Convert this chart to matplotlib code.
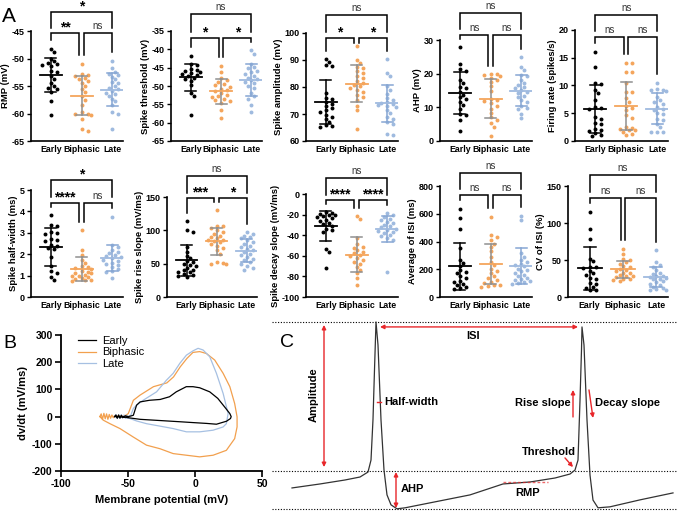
import matplotlib.pyplot as plt
import numpy as np

plt.rcParams['font.family'] = ['Liberation Sans', 'DejaVu Sans']
plt.rcParams['axes.unicode_minus'] = False

groups = ['Early', 'Biphasic', 'Late']
dot_colors = ['black', '#F4A55C', '#9FBADF']
err_colors = ['black', '#8f8f8f', '#86A6D3']
red = '#E8262A'

# ---------------- panel A: one list per group ----------------
rmp_early = [-48.2, -48.9, -50.0, -50.5, -50.8, -51.0, -51.1, -51.3, -52.3, -52.5, -53.2, -53.8, -54.5, -55.0, -55.3, -55.5, -56.0, -57.7, -60.3]
rmp_bip = [-51.0, -52.8, -53.0, -53.2, -53.5, -53.8, -54.0, -54.5, -55.0, -55.5, -56.0, -56.8, -57.5, -58.5, -59.8, -60.0, -60.1, -60.3, -61.0, -62.8, -63.2]
rmp_late = [-50.5, -51.8, -52.5, -52.8, -53.0, -53.3, -53.8, -54.3, -54.5, -55.0, -55.3, -55.6, -55.9, -56.2, -56.5, -56.8, -57.3, -57.8, -58.5, -59.8, -60.1, -62.8]

thr_early = [-41.7, -43.9, -44.4, -45.3, -45.6, -45.8, -46.2, -46.5, -46.8, -47.0, -47.3, -47.8, -48.2, -48.6, -49.7, -52.0, -52.8, -58.0]
thr_bip = [-44.5, -46.2, -47.8, -48.3, -48.8, -49.5, -49.8, -50.2, -50.8, -51.2, -51.5, -52.0, -52.5, -52.8, -53.0, -53.5, -53.8, -54.0, -54.6, -56.5, -58.8]
thr_late = [-40.3, -41.2, -43.9, -44.8, -45.2, -45.8, -46.3, -46.7, -47.2, -47.7, -48.1, -48.5, -48.9, -49.3, -50.0, -50.5, -52.0, -52.8, -53.5, -55.2, -57.0]

amp_early = [90.3, 89.2, 88.0, 87.6, 77.8, 76.0, 75.5, 74.5, 73.8, 73.0, 72.2, 71.5, 70.8, 69.8, 69.0, 68.2, 67.0, 66.0, 65.5, 65.2]
amp_bip = [95.3, 90.0, 87.0, 86.0, 88.8, 87.5, 85.2, 84.0, 83.5, 82.2, 81.5, 80.8, 80.2, 79.5, 78.8, 78.0, 77.0, 76.2, 75.2, 73.0, 71.5, 64.6]
amp_late = [90.3, 85.3, 84.0, 80.3, 79.0, 77.5, 76.0, 75.2, 74.5, 74.0, 73.6, 73.3, 73.0, 72.6, 71.4, 70.2, 69.0, 68.3, 67.0, 66.2, 62.7, 62.3]

ahp_early = [27.8, 23.0, 21.4, 20.8, 18.2, 17.3, 16.0, 15.6, 14.6, 13.8, 13.0, 12.4, 11.5, 10.6, 9.5, 8.1, 7.6, 6.1, 3.1]
ahp_bip = [20.0, 19.8, 19.6, 19.3, 18.8, 18.2, 17.5, 16.3, 14.9, 12.6, 12.3, 12.0, 11.2, 10.5, 9.6, 8.2, 7.0, 6.3, 5.2, 4.2, 1.5]
ahp_late = [25.0, 22.0, 21.0, 19.6, 19.2, 18.0, 17.2, 16.5, 16.0, 15.6, 15.0, 14.5, 14.2, 13.5, 13.0, 12.2, 11.5, 10.5, 9.8, 9.5, 8.1, 6.9]

fr_early = [16.0, 13.3, 10.5, 10.2, 9.2, 8.6, 7.3, 6.1, 6.0, 5.8, 4.3, 4.0, 3.2, 3.0, 2.2, 1.9, 1.8, 1.4, 1.0, 0.9]
fr_bip = [14.1, 14.1, 12.5, 12.5, 10.4, 8.9, 8.9, 7.7, 7.1, 6.3, 6.0, 5.5, 4.6, 4.2, 2.6, 2.4, 2.2, 2.0, 1.9, 1.6, 1.3, 1.0]
fr_late = [10.4, 9.3, 9.2, 9.1, 9.0, 8.0, 7.3, 7.0, 6.7, 6.2, 5.8, 5.5, 5.0, 4.9, 4.0, 3.8, 3.1, 2.5, 1.7, 1.6, 1.6]

hw_early = [3.85, 3.35, 3.3, 3.05, 3.0, 2.95, 2.7, 2.65, 2.6, 2.45, 2.4, 2.3, 2.25, 1.85, 1.45, 1.2, 1.1, 0.95, 0.8]
hw_bip = [3.12, 2.2, 1.95, 1.75, 1.6, 1.45, 1.4, 1.35, 1.3, 1.2, 1.15, 1.1, 1.1, 1.05, 1.0, 1.0, 0.95, 0.9, 0.85, 0.8, 0.8, 0.75]
hw_late = [3.75, 2.45, 2.35, 2.2, 2.1, 2.05, 1.95, 1.9, 1.85, 1.8, 1.75, 1.7, 1.6, 1.55, 1.5, 1.4, 1.3, 1.2, 1.15, 0.9]

rise_early = [114, 100, 97, 75, 68, 62, 58, 54, 52, 49, 48, 46, 44, 41, 40, 38, 37, 34, 33, 32, 30]
rise_bip = [130, 107, 106, 104, 100, 98, 95, 92, 90, 88, 86, 85, 84, 82, 80, 77, 74, 70, 65, 52, 51, 50, 50]
rise_late = [97, 95, 92, 90, 88, 85, 82, 80, 77, 75, 72, 70, 68, 65, 63, 60, 57, 55, 52, 50, 46, 43, 41]

decay_early = [-17.5, -18.5, -19.0, -20.0, -20.5, -21.5, -22.0, -23.0, -25.0, -26.5, -28.0, -29.0, -31.0, -33.5, -35.0, -36.5, -53.5, -56.0, -72.0]
decay_bip = [-21.5, -24.0, -43.0, -49.0, -51.0, -52.0, -54.5, -56.0, -57.0, -59.0, -60.0, -62.5, -64.0, -66.0, -67.5, -70.5, -74.0, -77.0, -81.5, -88.5]
decay_late = [-18.5, -20.0, -22.0, -24.0, -25.5, -27.0, -28.5, -30.0, -31.5, -32.5, -33.5, -34.5, -35.5, -36.5, -37.5, -39.5, -41.0, -43.0, -44.5, -75.5]

isi_early = [632, 566, 488, 350, 265, 245, 225, 195, 180, 170, 150, 135, 118, 110, 97, 85, 70, 62, 60]
isi_bip = [578, 445, 430, 412, 385, 362, 330, 285, 250, 230, 200, 190, 170, 150, 140, 125, 110, 100, 90, 85, 80, 72]
isi_late = [585, 555, 315, 290, 270, 255, 240, 230, 220, 205, 195, 185, 175, 160, 150, 140, 130, 120, 115, 110, 100, 95]

cv_early = [115, 92, 78, 52, 48, 41, 40, 39, 35, 32, 30, 26, 24, 19, 18, 14, 12, 10, 9]
cv_bip = [65, 58, 52, 50, 47, 45, 42, 40, 38, 36, 35, 33, 32, 30, 29, 28, 27, 25, 24, 23, 22]
cv_late = [63, 47, 43, 41, 36, 33, 31, 29, 28, 27, 26, 25, 24, 22, 20, 18, 16, 14, 12, 11, 10, 9]

# significance: (Early-Biphasic, Biphasic-Late, Early-Late)
sig_rmp = ['**', 'ns', '*']
sig_thr = ['*', '*', 'ns']
sig_amp = ['*', '*', 'ns']
sig_ahp = ['ns', 'ns', 'ns']
sig_fr = ['ns', 'ns', 'ns']
sig_hw = ['****', 'ns', '*']
sig_rise = ['***', '*', 'ns']
sig_decay = ['****', '****', 'ns']
sig_isi = ['ns', 'ns', 'ns']
sig_cv = ['ns', 'ns', 'ns']

# ---------------- panel B: phase plots ----------------
early_v = [-60, -59, -58, -57, -56, -55, -54, -52, -50, -48, -46, -43.6, -41, -34, -26, -19, -14, -6.5, -1.5, 3.5, 11, 17, 23, 26, 27, 26.5, 23.5, 16, 8.5, -1.5, -11, -21, -31, -41, -48.5, -56, -60]
early_dv = [0, 6, -6, 6, -6, 5, -4, 3, 0, 2, 5, 42, 54, 60, 63, 73, 91, 110, 110, 106, 91, 67, 30, 11, 0, -7, -17, -28, -25, -22, -19, -16, -13, -10, -5, 0, 0]
bip_v = [-71, -70, -69, -68, -67, -66, -65, -64, -63, -62, -61, -60, -56, -52, -49.8, -46, -41, -31, -21, -16, -11, -6, -1.5, 3.5, 8.5, 14.7, 21, 26, 29.6, 31.4, 31.4, 29.6, 23.4, 13.5, 3.5, -6.4, -16.3, -26.2, -36.2, -46.1, -56, -63.5, -68.5, -71]
bip_dv = [0, 10, -10, 12, -8, 10, -10, 8, -6, 6, -4, 3, 2, 4, 11, 60, 79, 110, 124, 146, 183, 214, 236, 239, 232, 208, 159, 110, 48, -1, -38, -81, -124, -142, -148, -142, -136, -118, -105, -75, -44, -26, -13, 0]
late_v = [-60, -59, -58, -57, -56, -55, -54, -53, -52, -51, -50, -48.6, -47.9, -46, -43.6, -38.7, -28.7, -21.3, -16.3, -11.3, -6.4, -1.4, 2.3, 6, 11, 16, 21, 24.7, 23.4, 21, 13.5, 3.5, -6.4, -16.3, -26.2, -36.2, -43.6, -48.6, -56, -60]
late_dv = [0, 7, -7, 6, -6, 7, -5, 6, -6, 5, -4, 3, 5, 30, 42, 60, 91, 134, 159, 196, 226, 242, 251, 245, 220, 159, 85, 11, -26, -38, -50, -56, -56, -44, -35, -26, -16, -7, 0, 0]

# ---------------- panel C: schematic trace (ms, mV) ----------------
trace_t = [11, 25, 37.5, 45, 49, 50.5, 51.5, 52.25, 53, 54, 55.5, 57, 58.5, 60.5, 63.5, 67.5, 80, 100, 116.5, 130, 142.5, 150, 152.5, 154, 155, 155.75, 156, 157, 158.5, 160, 161.5, 164, 170, 185, 201.5]
trace_v = [-53.5, -51.5, -49.5, -48, -45.5, -39.5, -19, 6, 30, 18.4, -19.3, -44.5, -57, -62, -64, -63.5, -61, -57, -51.5, -50.5, -48.5, -46.5, -44.5, -39.5, -9.5, 16, 27.5, 18.4, -19.3, -47, -59.6, -63.5, -63, -59.5, -56]
threshold_v = -45

W, H = 678, 511
fig = plt.figure(figsize=(W / 100, H / 100), dpi=100)


def add_ax(l, t, r, b):
    return fig.add_axes([l / W, 1 - b / H, (r - l) / W, (b - t) / H])


def swarm(vals, ypx, xpx, d=4.0, step=0.1):
    # simple beeswarm: spread tied values sideways, never beyond +-3 steps
    placed, offs = [], []
    cands = [0, 1, -1, 2, -2, 3, -3]
    for v in vals:
        y = v * ypx
        best, best_d = 0, -1
        for c in cands:
            x = c * step * xpx
            md = min([np.hypot(x - a, y - b) for a, b in placed] or [99])
            if md >= d:
                best = c
                break
            if md > best_d:
                best, best_d = c, md
        placed.append((best * step * xpx, y))
        offs.append(best * step)
    return np.array(offs)


def bracket(ax, x1, x2, y, yl1, yl2, txt):
    tr = ax.get_xaxis_transform()
    ax.plot([x1, x1, x2, x2], [yl1, y, y, yl2], color='black', lw=1.1,
            transform=tr, clip_on=False, solid_joinstyle='miter')
    if txt == 'ns':
        ax.annotate('ns', ((x1 + x2) / 2, y), xycoords=tr, xytext=(0, 1.5),
                    textcoords='offset points', ha='center', va='bottom',
                    fontsize=7, color='#333333')
    else:
        ax.annotate(txt, ((x1 + x2) / 2, y), xycoords=tr, xytext=(0, -1),
                    textcoords='offset points', ha='center', va='bottom',
                    fontsize=10, fontweight='bold')


def dot_panel(box, data, ylabel, yticks, sig, hi, lo):
    l, t, r, b = box
    ax = add_ax(l, t, r, b)
    ymin, ymax = min(yticks), max(yticks)
    ax.set_ylim(ymin, ymax)
    ax.set_xlim(0.35, 3.35)
    ypx = (b - t) / (ymax - ymin)
    xpx = (r - l) / 3.0
    tops = []
    for i, vals in enumerate(data):
        vals = np.sort(np.asarray(vals, float))[::-1]
        tops.append((vals.max() - ymin) / (ymax - ymin))
        offs = swarm(vals, ypx, xpx)
        ax.scatter(i + 1 + offs, vals, s=8, color=dot_colors[i], linewidths=0,
                   zorder=3, clip_on=False)
        m, sd = vals.mean(), vals.std(ddof=1)
        ax.plot([i + 1, i + 1], [m - sd, m + sd], color=err_colors[i], lw=1.1, zorder=4)
        for y in (m - sd, m + sd):
            ax.plot([i + 0.82, i + 1.18], [y, y], color=err_colors[i], lw=1.1, zorder=4)
        ax.plot([i + 0.64, i + 1.36], [m, m], color=dot_colors[i], lw=1.3, zorder=5)
    ax.set_yticks(yticks)
    ax.set_xticks([1, 2, 3])
    ax.set_xticklabels(groups, fontsize=6.3, fontweight='bold')
    ax.set_ylabel(ylabel, fontsize=6.8, fontweight='bold', labelpad=1)
    for lab in ax.get_yticklabels():
        lab.set_fontsize(6.5)
        lab.set_fontweight('bold')
    ax.tick_params(axis='x', length=0, pad=3)
    ax.tick_params(axis='y', length=3, width=1, pad=1.5)
    for s in ('top', 'right'):
        ax.spines[s].set_visible(False)
    for s in ('left', 'bottom'):
        ax.spines[s].set_linewidth(1.2)
    g = 0.07
    leg = lambda k: min(lo - 0.04, tops[k] + 0.08)
    bracket(ax, 1, 2 - g, lo, leg(0), leg(1), sig[0])
    bracket(ax, 2 + g, 3, lo, leg(1), leg(2), sig[1])
    ub = hi - 0.75 * (hi - lo)
    bracket(ax, 1, 3, hi, ub, ub, sig[2])
    return ax


dot_panel((31, 31, 123, 141), [rmp_early, rmp_bip, rmp_late], 'RMP (mV)',
          [-65, -60, -55, -50, -45], sig_rmp, 1.17, 0.98)
dot_panel((171, 31, 262, 141), [thr_early, thr_bip, thr_late], 'Spike threshold (mV)',
          [-65, -60, -55, -50, -45, -40, -35], sig_thr, 1.15, 0.94)
dot_panel((306, 33, 398, 141), [amp_early, amp_bip, amp_late], 'Spike amplitude (mV)',
          [60, 70, 80, 90, 100], sig_amp, 1.17, 0.95)
dot_panel((440, 40, 532, 141), [ahp_early, ahp_bip, ahp_late], 'AHP (mV)',
          [0, 10, 20, 30], sig_ahp, 1.27, 1.05)
dot_panel((575, 30, 668, 141), [fr_early, fr_bip, fr_late], 'Firing rate (spikes/s)',
          [0, 5, 10, 15, 20], sig_fr, 1.135, 0.94)

dot_panel((31, 190, 123, 297), [hw_early, hw_bip, hw_late], 'Spike half-width (ms)',
          [0, 1, 2, 3, 4, 5], sig_hw, 1.09, 0.88)
dot_panel((167, 197, 257, 297), [rise_early, rise_bip, rise_late], 'Spike rise slope (mV/ms)',
          [0, 50, 100, 150], sig_rise, 1.21, 0.99)
dot_panel((306, 194, 398, 297), [decay_early, decay_bip, decay_late], 'Spike decay slope (mV/ms)',
          [-100, -80, -60, -40, -20, 0], sig_decay, 1.155, 0.94)
dot_panel((440, 186, 532, 297), [isi_early, isi_bip, isi_late], 'Average of ISI (ms)',
          [0, 200, 400, 600, 800], sig_isi, 1.12, 0.92)
dot_panel((568, 186, 668, 297), [cv_early, cv_bip, cv_late], 'CV of ISI (%)',
          [0, 50, 100, 150], sig_cv, 1.10, 0.89)

# ---------------- panel B ----------------
axb = add_ax(61, 335, 262, 471)
axb.plot(bip_v, bip_dv, color='#F2A04E', lw=0.9, label='Biphasic')
axb.plot(late_v, late_dv, color='#A6C0E2', lw=0.9, label='Late')
axb.plot(early_v, early_dv, color='black', lw=0.9, label='Early')
axb.set_xlim(-100, 50)
axb.set_ylim(-200, 300)
axb.set_xticks([-100, -50, 0, 50])
axb.set_yticks([-200, -100, 0, 100, 200, 300])
for lab in axb.get_xticklabels() + axb.get_yticklabels():
    lab.set_fontsize(7.5)
    lab.set_fontweight('bold')
axb.set_xlabel('Membrane potential (mV)', fontsize=8, fontweight='bold', labelpad=4)
axb.set_ylabel('dv/dt (mV/ms)', fontsize=8, fontweight='bold', labelpad=3)
axb.tick_params(length=4, width=1.2, pad=2)
for s in ('top', 'right'):
    axb.spines[s].set_visible(False)
for s in ('left', 'bottom'):
    axb.spines[s].set_linewidth(1.3)
h, lbl = axb.get_legend_handles_labels()
axb.legend([h[2], h[0], h[1]], [lbl[2], lbl[0], lbl[1]], loc='upper left',
           bbox_to_anchor=(70 / W, 1 - 328 / H), bbox_transform=fig.transFigure,
           frameon=False, fontsize=8, handlelength=1.6, labelspacing=0.15,
           handletextpad=0.6, borderpad=0.2)

# ---------------- panel C ----------------
axc = add_ax(270, 315, 678, 511)
axc.set_xlim(0, 204)
axc.set_ylim(-65.1, 33.5)
axc.axis('off')
for lvl in (max(trace_v), threshold_v, min(trace_v)):
    axc.plot([1, 203], [lvl, lvl], ls=(0, (1, 1.5)), color='black', lw=0.8)
axc.plot(trace_t, trace_v, color='#333333', lw=0.9)

arr2 = dict(arrowstyle='<|-|>', color=red, lw=1, mutation_scale=6, shrinkA=0, shrinkB=0)
arr1 = dict(arrowstyle='-|>', color=red, lw=1, mutation_scale=6, shrinkA=0, shrinkB=0)
axc.annotate('', xy=(27, 28.5), xytext=(27, -43), arrowprops=arr2)
axc.text(22, -6.7, 'Amplitude', rotation=90, ha='center', va='center', fontsize=8, fontweight='bold')
axc.annotate('', xy=(55, 27.5), xytext=(154, 27.5), arrowprops=arr2)
axc.text(101.5, 22.9, 'ISI', ha='center', va='center', fontsize=8, fontweight='bold')
axc.plot([53.5, 55.5], [-10.3, -10.3], color=red, lw=1)
axc.text(57, -10.3, 'Half-width', ha='left', va='center', fontsize=8, fontweight='bold')
axc.annotate('', xy=(151.5, -4.2), xytext=(151.5, -17.8), arrowprops=arr1)
axc.text(150.3, -10.8, 'Rise slope', ha='right', va='center', fontsize=8, fontweight='bold')
axc.annotate('', xy=(161.5, -18.3), xytext=(159.5, -4.2), arrowprops=arr1)
axc.text(162.5, -10.8, 'Decay slope', ha='left', va='center', fontsize=8, fontweight='bold')
axc.text(139.5, -35.4, 'Threshold', ha='center', va='center', fontsize=8, fontweight='bold')
axc.annotate('', xy=(151.5, -43), xytext=(147.5, -38.4), arrowprops=arr1)
axc.annotate('', xy=(63, -63.6), xytext=(63, -45.5), arrowprops=arr2)
axc.text(65.5, -54, 'AHP', ha='left', va='center', fontsize=8, fontweight='bold')
axc.plot([116.5, 139], [-50.5, -50.5], color=red, lw=1, ls=(0, (2, 1.5)), alpha=0.7)
axc.text(129, -55.8, 'RMP', ha='center', va='center', fontsize=8, fontweight='bold')

# panel letters
fig.text(2 / W, 1 - 22 / H, 'A', fontsize=15, va='baseline')
fig.text(3 / W, 1 - 348 / H, 'B', fontsize=14, va='baseline')
fig.text(280 / W, 1 - 347 / H, 'C', fontsize=14, va='baseline')

fig.savefig('out.png', dpi=100)
